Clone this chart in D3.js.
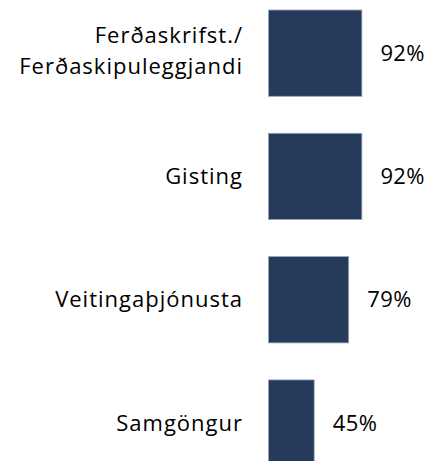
<!DOCTYPE html>
<html>
<head>
<meta charset="utf-8">
<script src="https://cdn.jsdelivr.net/npm/d3@7"></script>
<style>
  html, body { margin: 0; padding: 0; background: #fff; overflow: hidden; }
  svg { display: block; }
</style>
</head>
<body>
<div id="chart"></div>
<script>
// categories (label lines) and shares
const categories = ["Ferðaskrifst./\nFerðaskipuleggjandi", "Gisting", "Veitingaþjónusta", "Samgöngur"];
const values = [0.92, 0.92, 0.79, 0.45];
const valueLabels = ["92%", "92%", "79%", "45%"];

const width = 432, height = 461;
const fontSize = 22, lineH = 31;

const svg = d3.select("#chart").append("svg")
  .attr("width", width)
  .attr("height", height)
  .style("font-family", "'Open Sans', sans-serif")
  .style("font-size", fontSize + "px");

// bars start at 268.5, ~1.015px per percent
const x = d3.scaleLinear().domain([0, 1]).range([268.5, 370]);
const y = d3.scaleBand()
  .domain(categories)
  .range([-8.5, 484.7])
  .paddingInner(0.3)
  .paddingOuter(0.15);

const rows = categories.map((c, i) => ({ cat: c, v: values[i], lbl: valueLabels[i] }));

svg.selectAll("rect.bar")
  .data(rows)
  .join("rect")
  .attr("class", "bar")
  .attr("x", x(0))
  .attr("y", d => y(d.cat))
  .attr("width", d => x(d.v) - x(0))
  .attr("height", y.bandwidth())
  .attr("fill", "#263a5c")
  .attr("stroke", "#9aa6b8")
  .attr("stroke-width", 0.8);

// value labels
svg.selectAll("text.val")
  .data(rows)
  .join("text")
  .attr("class", "val")
  .attr("x", d => x(d.v) + 18.5)
  .attr("y", d => y(d.cat) + y.bandwidth() / 2 + fontSize * 0.35)
  .attr("fill", "#000")
  .style("letter-spacing", "0.4px")
  .text(d => d.lbl);

// category labels, right aligned, may wrap on \n
const cats = svg.selectAll("text.cat")
  .data(rows)
  .join("text")
  .attr("class", "cat")
  .attr("text-anchor", "end")
  .attr("fill", "#000")
  .style("letter-spacing", "1px");

cats.each(function (d) {
  const lines = d.cat.split("\n");
  const cy = y(d.cat) + y.bandwidth() / 2 + fontSize * 0.35;
  const off = lines.length > 1 ? -2 : 0;
  d3.select(this).selectAll("tspan")
    .data(lines)
    .join("tspan")
    .attr("x", 243)
    .attr("y", (l, i) => cy + off + (i - (lines.length - 1) / 2) * lineH)
    .text(l => l);
});
</script>
</body>
</html>
